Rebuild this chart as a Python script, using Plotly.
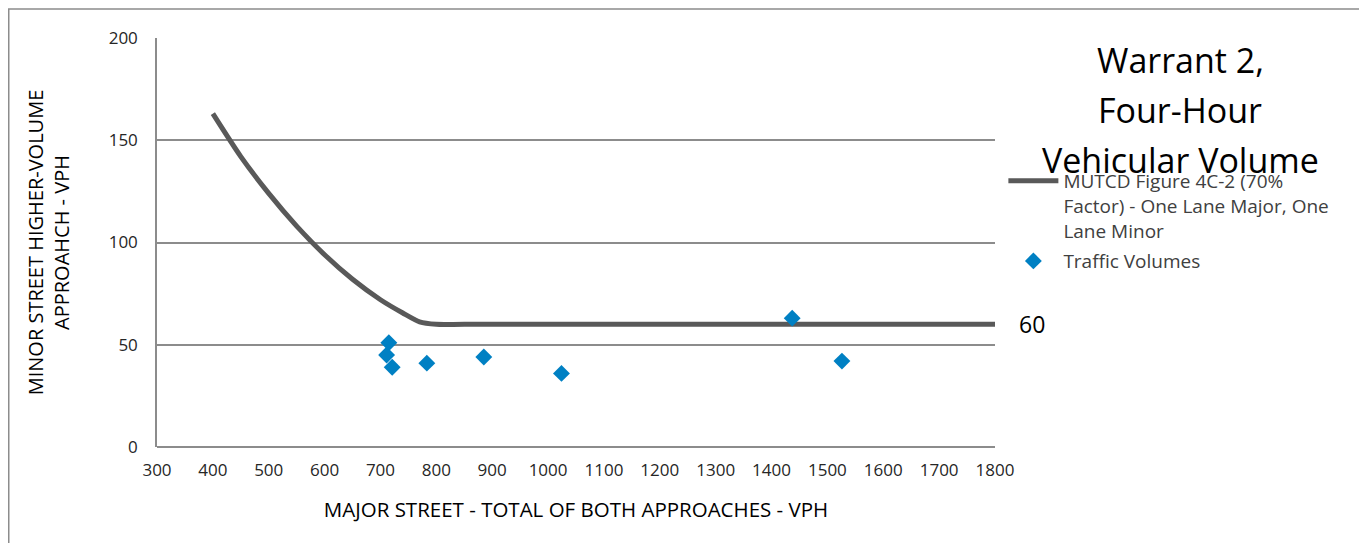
import plotly.graph_objects as go

# MUTCD Figure 4C-2 (70% factor) curve
curve_major = [400, 450, 500, 550, 600, 650, 700, 740, 770, 800, 850, 1800]
curve_minor = [163, 142, 124, 108, 94, 82, 72, 65.5, 61.2, 60, 60, 60]

# observed traffic volumes
traffic_major = [715, 711, 721, 783, 885, 1024, 1437, 1526]
traffic_minor = [51, 45, 39, 41, 44, 36, 63, 42]

x_ticks = list(range(300, 1900, 100))
y_ticks = [0, 50, 100, 150, 200]

title_lines = ["Warrant 2,", "Four-Hour", "Vehicular Volume"]

tick_font = dict(family="Open Sans, sans-serif", size=17, color="#262626")
title_font = dict(family="Open Sans, sans-serif", size=20, color="#000000")

fig = go.Figure()

fig.add_trace(go.Scatter(
    x=curve_major, y=curve_minor, mode="lines",
    line=dict(color="#595959", width=5, shape="spline", smoothing=0.7),
    name="MUTCD Figure 4C-2 (70%<br>Factor) - One Lane Major, One<br>Lane Minor",
    legendgroup="curve",
))
fig.add_trace(go.Scatter(
    x=traffic_major, y=traffic_minor, mode="markers",
    marker=dict(symbol="diamond", size=13, color="#0080C3"),
    name="Traffic Volumes",
    legendgroup="traffic",
))

# value label at the end of the curve
fig.add_annotation(
    x=curve_major[-1], y=curve_minor[-1], text=str(curve_minor[-1]),
    showarrow=False, xanchor="left", xshift=22,
    font=dict(family="Open Sans, sans-serif", size=23, color="#000000"),
)

# chart title on the right, one line at a time for wider spacing
for i, line in enumerate(title_lines):
    fig.add_annotation(
        x=1.221, y=0.946 - i * 0.122, xref="paper", yref="paper",
        text=line, showarrow=False, xanchor="center", yanchor="middle",
        font=dict(family="Open Sans, sans-serif", size=34, color="#000000"),
    )

# outer chart border
fig.add_shape(
    type="rect", xref="paper", yref="paper",
    x0=-0.1769, x1=1.438, y0=-0.26, y1=1.0709,
    line=dict(color="#8c8c8c", width=1.5), fillcolor="rgba(0,0,0,0)",
)

fig.update_layout(
    width=1359, height=535,
    margin=dict(l=149, r=372, t=30, b=96),
    paper_bgcolor="white", plot_bgcolor="white",
    showlegend=True,
    legend=dict(
        x=1.01, y=0.697, xanchor="left", yanchor="top", valign="top",
        font=dict(family="Open Sans, sans-serif", size=19, color="#404040"),
        bgcolor="rgba(0,0,0,0)", tracegroupgap=3, itemwidth=50,
    ),
    xaxis=dict(
        range=[300, 1800], tickvals=x_ticks, ticktext=[str(v) for v in x_ticks],
        showgrid=False, zeroline=False, showline=False,
        ticks="outside", ticklen=8, tickcolor="rgba(0,0,0,0)",
        tickfont=tick_font,
        title=dict(text="MAJOR STREET - TOTAL OF BOTH APPROACHES - VPH", font=dict(title_font, size=20.5), standoff=22),
    ),
    yaxis=dict(
        range=[0, 200], tickvals=y_ticks, ticktext=[str(v) for v in y_ticks],
        showgrid=True, gridcolor="#8c8c8c", gridwidth=1.5,
        zeroline=True, zerolinecolor="#8c8c8c", zerolinewidth=1.5,
        showline=True, linecolor="#8c8c8c", linewidth=1.5,
        ticks="outside", ticklen=14, tickcolor="rgba(0,0,0,0)",
        tickfont=tick_font,
        title=dict(text="MINOR STREET HIGHER-VOLUME<br>APPROAHCH - VPH", font=title_font, standoff=34),
    ),
)

fig.write_html("out.html")
